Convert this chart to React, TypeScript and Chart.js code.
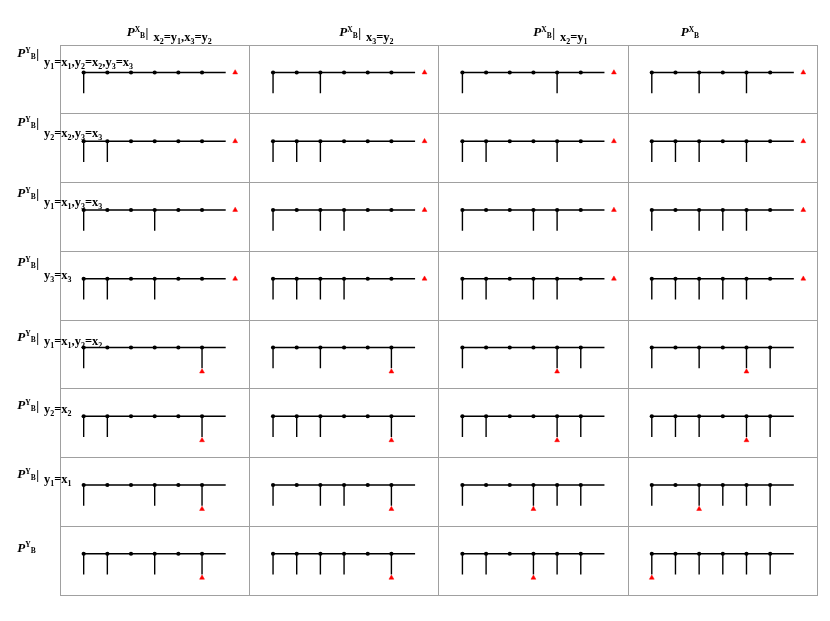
import React, { useEffect, useRef } from "react";
import { Chart, registerables } from "chart.js";

Chart.register(...registerables);

// ---- data ----
const columnConditions = ["x_2=y_1,x_3=y_2", "x_3=y_2", "x_2=y_1", ""];
const rowConditions = [
  "y_1=x_1,y_2=x_2,y_3=x_3",
  "y_2=x_2,y_3=x_3",
  "y_1=x_1,y_3=x_3",
  "y_3=x_3",
  "y_1=x_1,y_2=x_2",
  "y_2=x_2",
  "y_1=x_1",
  "",
];
const positions = [1, 2, 3, 4, 5, 6];
const lineStart = 1;
const lineEnd = 7;
// positions that drop down, per row, per column
const drops: number[][][] = [
  [[1], [1, 3], [1, 5], [1, 3, 5]],
  [[1, 2], [1, 2, 3], [1, 2, 5], [1, 2, 3, 5]],
  [[1, 4], [1, 3, 4], [1, 4, 5], [1, 3, 4, 5]],
  [[1, 2, 4], [1, 2, 3, 4], [1, 2, 4, 5], [1, 2, 3, 4, 5]],
  [[1, 6], [1, 3, 6], [1, 5, 6], [1, 3, 5, 6]],
  [[1, 2, 6], [1, 2, 3, 6], [1, 2, 5, 6], [1, 2, 3, 5, 6]],
  [[1, 4, 6], [1, 3, 4, 6], [1, 4, 5, 6], [1, 3, 4, 5, 6]],
  [[1, 2, 4, 6], [1, 2, 3, 4, 6], [1, 2, 4, 5, 6], [1, 2, 3, 4, 5, 6]],
];
// red marker position per row, per column
const markers: number[][] = [
  [7.4, 7.4, 7.4, 7.4],
  [7.4, 7.4, 7.4, 7.4],
  [7.4, 7.4, 7.4, 7.4],
  [7.4, 7.4, 7.4, 7.4],
  [6, 6, 5, 5],
  [6, 6, 5, 5],
  [6, 6, 4, 3],
  [6, 6, 4, 1],
];

// ---- layout constants ----
const CELL_W = 8; // x units per column
const LINE_LEVEL = 0.4;
const DROP_LEVEL = 0.7;
const MARK_DROP_LEVEL = 0.75;
const FONT = '"Liberation Serif", "Times New Roman", serif';
const headerPX = [126.7, 339.3, 533.3, 680.7];
const headerBase = 36;
const headerTextBase = 40.7;
const rowPX = 17.3;
const rowBase = [57, 126, 197.3, 266, 340.7, 409.3, 478.3, 551.7];
const rowTextBase = [65.7, 137, 206, 278.5, 345.3, 413.3, 482.7, 0];
const TEXT_OFFSET = 26.7;

function drawRich(ctx: CanvasRenderingContext2D, x: number, base: number, str: string) {
  let cx = x;
  for (let i = 0; i < str.length; i++) {
    const ch = str[i];
    if (ch === "_") {
      const s = str[++i];
      ctx.font = `bold 8px ${FONT}`;
      ctx.fillText(s, cx, base + 3);
      cx += ctx.measureText(s).width;
      continue;
    }
    ctx.font = `bold 12.5px ${FONT}`;
    ctx.fillText(ch, cx, base);
    cx += ctx.measureText(ch).width;
  }
}

function drawP(ctx: CanvasRenderingContext2D, x: number, base: number, sup: string, bar: boolean) {
  ctx.font = `italic bold 13px ${FONT}`;
  ctx.fillText("P", x, base);
  let cx = x + ctx.measureText("P").width;
  ctx.font = `bold 7.5px ${FONT}`;
  ctx.fillText(sup, cx, base - 4.5);
  cx += ctx.measureText(sup).width;
  ctx.fillText("B", cx, base + 1.5);
  cx += ctx.measureText("B").width;
  if (bar) {
    ctx.font = `bold 13px ${FONT}`;
    ctx.fillText("|", cx + 0.5, base + 1);
  }
}

const labelsPlugin = {
  id: "labels",
  afterDraw(chart: any) {
    const ctx: CanvasRenderingContext2D = chart.ctx;
    ctx.save();
    ctx.fillStyle = "#000";
    ctx.textAlign = "left";
    ctx.textBaseline = "alphabetic";
    columnConditions.forEach((cond, c) => {
      drawP(ctx, headerPX[c], headerBase, "X", cond !== "");
      if (cond) drawRich(ctx, headerPX[c] + TEXT_OFFSET, headerTextBase, cond);
    });
    rowConditions.forEach((cond, r) => {
      drawP(ctx, rowPX, rowBase[r], "Y", cond !== "");
      if (cond) drawRich(ctx, rowPX + TEXT_OFFSET, rowTextBase[r], cond);
    });
    ctx.restore();
  },
};

export default function App() {
  const ref = useRef<HTMLCanvasElement | null>(null);
  useEffect(() => {
    if (!ref.current) return;
    const linePts: any[] = [];
    const dotPts: any[] = [];
    const markPts: any[] = [];
    drops.forEach((rowDrops, r) => {
      rowDrops.forEach((cellDrops, c) => {
        const x0 = c * CELL_W;
        const yl = r + LINE_LEVEL;
        linePts.push({ x: x0 + lineStart, y: yl }, { x: x0 + lineEnd, y: yl }, { x: x0 + lineEnd, y: null });
        cellDrops.forEach((p) => {
          linePts.push({ x: x0 + p, y: yl }, { x: x0 + p, y: r + DROP_LEVEL }, { x: x0 + p, y: null });
        });
        positions.forEach((p) => dotPts.push({ x: x0 + p, y: yl }));
        const m = markers[r][c];
        const onDrop = cellDrops.includes(m);
        markPts.push({ x: x0 + m, y: onDrop ? r + MARK_DROP_LEVEL : yl });
      });
    });
    const chart = new Chart(ref.current, {
      type: "scatter",
      data: {
        datasets: [
          {
            data: markPts,
            pointStyle: "triangle",
            pointRadius: 2.8,
            backgroundColor: "#ff0000",
            borderColor: "#ff0000",
            borderWidth: 0.5,
            showLine: false,
          },
          {
            data: dotPts,
            pointRadius: 2.1,
            backgroundColor: "#000",
            borderColor: "#000",
            borderWidth: 0,
            showLine: false,
          },
          {
            data: linePts,
            showLine: true,
            spanGaps: false,
            pointRadius: 0,
            borderColor: "#000",
            borderWidth: 1.4,
            tension: 0,
          },
        ],
      } as any,
      options: {
        responsive: false,
        devicePixelRatio: 1,
        animation: false,
        layout: { padding: { left: 60, right: 12.5, top: 45, bottom: 26 } },
        plugins: { legend: { display: false }, tooltip: { enabled: false } },
        scales: {
          x: {
            type: "linear",
            min: 0,
            max: 32,
            ticks: { display: false, stepSize: 8 },
            grid: { color: "#a0a0a0", lineWidth: 1, drawTicks: false },
            border: { display: true, color: "#a0a0a0" },
          },
          y: {
            type: "linear",
            min: 0,
            max: 8,
            reverse: true,
            ticks: { display: false, stepSize: 1 },
            grid: { color: "#a0a0a0", lineWidth: 1, drawTicks: false },
            border: { display: true, color: "#a0a0a0" },
          },
        },
      } as any,
      plugins: [labelsPlugin],
    });
    return () => chart.destroy();
  }, []);
  return (
    <div style={{ position: "absolute", left: 0, top: 0, width: 830, height: 621, background: "#fff" }}>
      <canvas ref={ref} width={830} height={621} style={{ width: 830, height: 621, display: "block" }} />
    </div>
  );
}
